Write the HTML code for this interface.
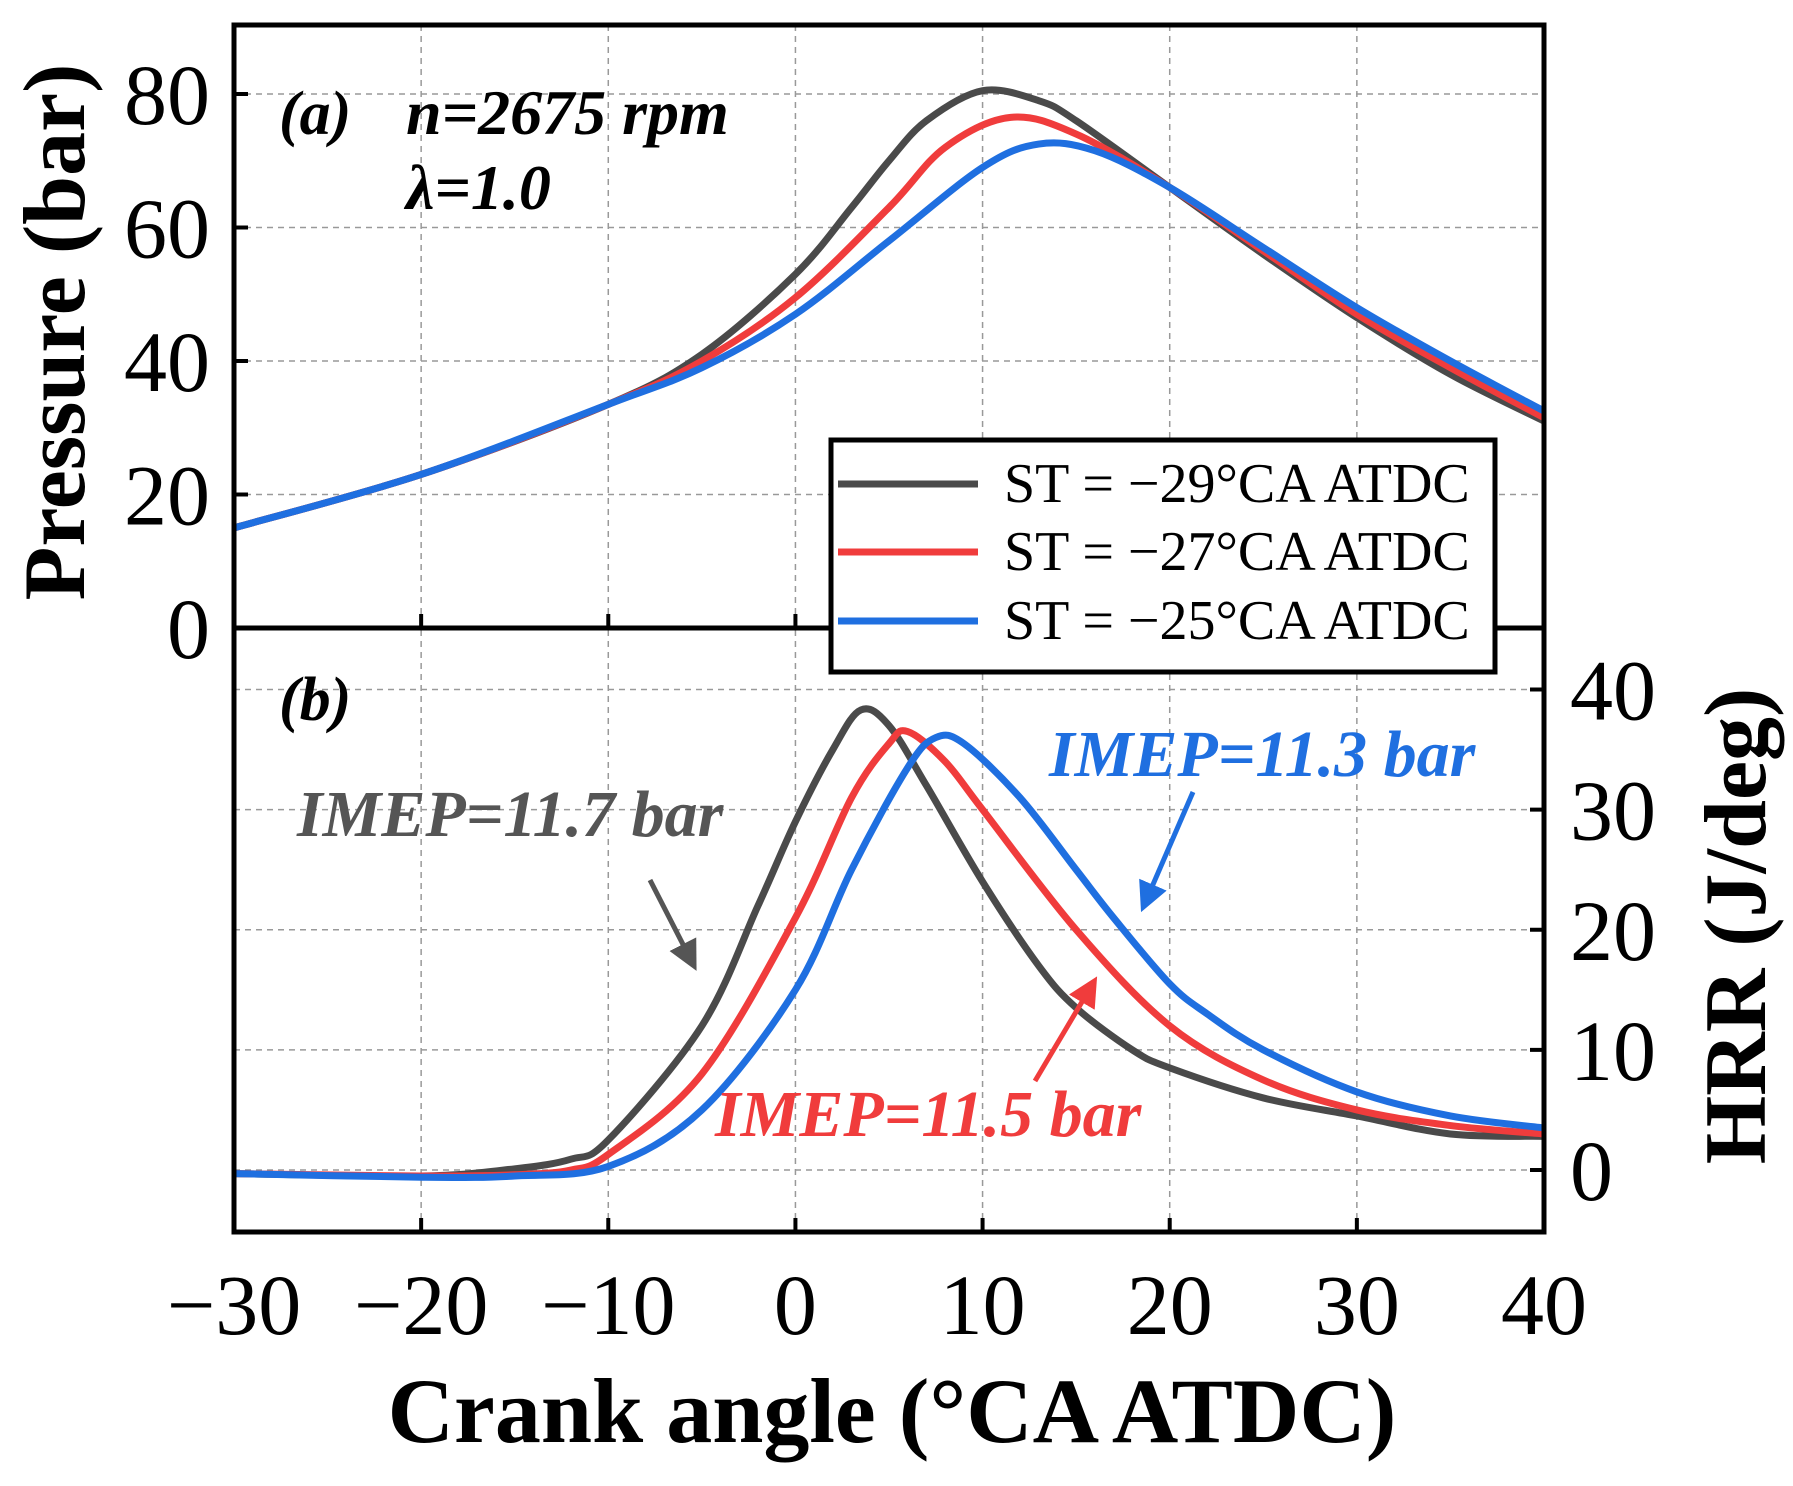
<!DOCTYPE html>
<html><head><meta charset="utf-8"><style>
body{margin:0;background:#fff}
svg text{font-family:"Liberation Serif",serif}
</style></head><body>
<svg id="chart" width="1793" height="1481" viewBox="0 0 1793 1481" xmlns="http://www.w3.org/2000/svg">
<defs>
<clipPath id="clipA"><rect x="234" y="25" width="1310" height="603"/></clipPath>
<clipPath id="clipB"><rect x="234" y="628" width="1310" height="604"/></clipPath>
<marker id="ah" markerWidth="6" markerHeight="6" refX="4" refY="3" orient="auto" markerUnits="strokeWidth"><path d="M0,0 L6,3 L0,6 z" fill="context-stroke"/></marker>
</defs>
<g id="grid"></g>
<g id="series"></g>
<g id="axes"></g>
<text x="279" y="134" font-size="62" font-weight="bold" font-style="italic">(a)</text>
<text x="406" y="134" font-size="64" font-weight="bold" font-style="italic">n=2675 rpm</text>
<text x="406" y="209" font-size="64" font-weight="bold" font-style="italic">λ=1.0</text>
<text x="279" y="720" font-size="62" font-weight="bold" font-style="italic">(b)</text>
<text x="297" y="836" font-size="66" font-weight="bold" font-style="italic" fill="#555">IMEP=11.7 bar</text>
<text x="1049" y="776" font-size="66" font-weight="bold" font-style="italic" fill="#1f6fe0">IMEP=11.3 bar</text>
<text x="715" y="1136" font-size="66" font-weight="bold" font-style="italic" fill="#f03c3c">IMEP=11.5 bar</text>
<line x1="650" y1="880" x2="692" y2="962" stroke="#555" stroke-width="5" marker-end="url(#ah)"/>
<line x1="1193" y1="792" x2="1145" y2="903" stroke="#1f6fe0" stroke-width="5" marker-end="url(#ah)"/>
<line x1="1035" y1="1081" x2="1092" y2="985" stroke="#f03c3c" stroke-width="5" marker-end="url(#ah)"/>
<g>
<rect x="831" y="440" width="664" height="232" fill="#fff" stroke="#000" stroke-width="5"/>
<line x1="838" y1="484" x2="978" y2="484" stroke="#4a4a4a" stroke-width="7"/>
<text x="1004" y="502" font-size="56">ST = −29°CA ATDC</text>
<line x1="838" y1="552" x2="978" y2="552" stroke="#f03c3c" stroke-width="7"/>
<text x="1004" y="570" font-size="56">ST = −27°CA ATDC</text>
<line x1="838" y1="621" x2="978" y2="621" stroke="#1f6fe0" stroke-width="7"/>
<text x="1004" y="639" font-size="56">ST = −25°CA ATDC</text>
</g>
<text transform="translate(84,332) rotate(-90)" text-anchor="middle" font-size="88" font-weight="bold">Pressure (bar)</text>
<text transform="translate(1765,926) rotate(-90)" text-anchor="middle" font-size="88" font-weight="bold">HRR (J/deg)</text>
<text x="892" y="1442" text-anchor="middle" font-size="92" font-weight="bold">Crank angle (°CA ATDC)</text>
</svg>
<script>
const xTicks=[-30,-20,-10,0,10,20,30,40];
const pTicks=[0,20,40,60,80];
const hTicks=[0,10,20,30,40];
const pX=[-30,-20,-10,-5,0,3,5,7,10,13,15,20,25,30,35,40];
const pBlack=[15,23,33.5,41,53,63,70,76,80.5,79,76,66,56,46.5,38,31];
const pRedX=[-30,-20,-10,-5,0,5,8,11.5,15,20,25,30,35,40];
const pRed=[15,23,33.5,40,49.5,63,72,76.5,74,66,56.5,47,39,31.5];
const pBlueX=[-30,-20,-10,-5,0,5,10,13,16,20,25,30,35,40];
const pBlue=[15,23,33.5,39,47,58,69,72.5,71.5,66,57,48,40,32.5];
const hBlackX=[-30,-20,-15,-12,-10,-5,-2,0,2,3.5,5,7,10,13,15,18,20,25,30,35,40];
const hBlack=[-0.3,-0.5,0.1,0.9,2.5,12,22,29,35,38.3,37,32,24,17,13.5,10,8.5,6,4.5,3,2.8];
const hRedX=[-30,-20,-15,-12,-10,-5,0,3,5,6,8,10,15,20,25,30,35,40];
const hRed=[-0.3,-0.5,-0.4,0,1.3,8,21,31,35.5,36.5,34,30,20,12,7.5,5,3.7,3];
const hBlueX=[-30,-20,-15,-10,-5,0,3,6,7.5,9,12,15,17,20,22,25,30,35,40];
const hBlue=[-0.3,-0.6,-0.5,0.3,5,15,25,33.5,36,35.5,31,25,21,15.5,13,10,6.5,4.5,3.5];

const NS='http://www.w3.org/2000/svg';
const L=234,R=1544,T=25,MID=628,B=1232;
const sx=v=>L+(v+30)/70*(R-L);
const syP=v=>628-(v/80)*(628-94);
const syH=v=>1170-(v/40)*(1170-689.5);
function mk(tag,attrs,parent){const e=document.createElementNS(NS,tag);for(const k in attrs)e.setAttribute(k,attrs[k]);parent.appendChild(e);return e;}
const grid=document.getElementById('grid'),axes=document.getElementById('axes'),series=document.getElementById('series');
const gs={stroke:'#999','stroke-width':1.5,'stroke-dasharray':'6,5'};
xTicks.forEach(t=>{
  if(t>-30&&t<40){
    const g=mk('line',Object.assign({x1:sx(t),x2:sx(t),y1:T,y2:B},gs),grid);
    
    
  }
  const tk=mk('line',{x1:sx(t),x2:sx(t),y1:B,y2:B-14,stroke:'#000','stroke-width':4},axes);
  
  
  const tk2=mk('line',{x1:sx(t),x2:sx(t),y1:MID,y2:MID-14,stroke:'#000','stroke-width':4},axes);
  
  
  const lb=mk('text',{x:sx(t),y:1334,'text-anchor':'middle','font-size':86},axes);
  lb.textContent=(t<0?'−':'')+Math.abs(t);
  
  
});
pTicks.forEach(t=>{
  const y=syP(t);
  if(t>0){
    const g=mk('line',Object.assign({x1:L,x2:R,y1:y,y2:y},gs),grid);
    
    
  }
  const tk=mk('line',{x1:L,x2:L+14,y1:y,y2:y,stroke:'#000','stroke-width':4},axes);
  
  
  const lb=mk('text',{x:210,y:y+30,'text-anchor':'end','font-size':86},axes);
  lb.textContent=t;
  
  
});
hTicks.forEach(t=>{
  const y=syH(t);
  const g=mk('line',Object.assign({x1:L,x2:R,y1:y,y2:y},gs),grid);
  
  
  const tk=mk('line',{x1:R,x2:R-14,y1:y,y2:y,stroke:'#000','stroke-width':4},axes);
  
  
  const lb=mk('text',{x:1570,y:y+30,'font-size':86},axes);
  lb.textContent=t;
  
  
});
const fr=mk('rect',{x:L,y:T,width:R-L,height:B-T,fill:'none',stroke:'#000','stroke-width':5},axes);


const dv=mk('line',{x1:L,x2:R,y1:MID,y2:MID,stroke:'#000','stroke-width':5},axes);



function path(xs,ys,fy){
  const p=xs.map((x,i)=>[sx(x),fy(ys[i])]);
  let d='M'+p[0][0]+','+p[0][1];
  for(let i=0;i<p.length-1;i++){
    const p0=p[i-1]||p[i],p1=p[i],p2=p[i+1],p3=p[i+2]||p2;
    const c1=[p1[0]+(p2[0]-p0[0])/6,p1[1]+(p2[1]-p0[1])/6];
    const c2=[p2[0]-(p3[0]-p1[0])/6,p2[1]-(p3[1]-p1[1])/6];
    d+=`C${c1[0]},${c1[1]} ${c2[0]},${c2[1]} ${p2[0]},${p2[1]}`;
  }
  return d;
}
const defs=[
 [pX,pBlack,syP,'#4a4a4a','clipA','pressure-st29'],
 [pRedX,pRed,syP,'#f03c3c','clipA','pressure-st27'],
 [pBlueX,pBlue,syP,'#1f6fe0','clipA','pressure-st25'],
 [hBlackX,hBlack,syH,'#4a4a4a','clipB','hrr-st29'],
 [hRedX,hRed,syH,'#f03c3c','clipB','hrr-st27'],
 [hBlueX,hBlue,syH,'#1f6fe0','clipB','hrr-st25']];
defs.forEach(s=>{
  const e=mk('path',{d:path(s[0],s[1],s[2]),fill:'none',stroke:s[3],'stroke-width':7,'clip-path':`url(#${s[4]})`},series);
  
  
});
</script>
</body></html>
